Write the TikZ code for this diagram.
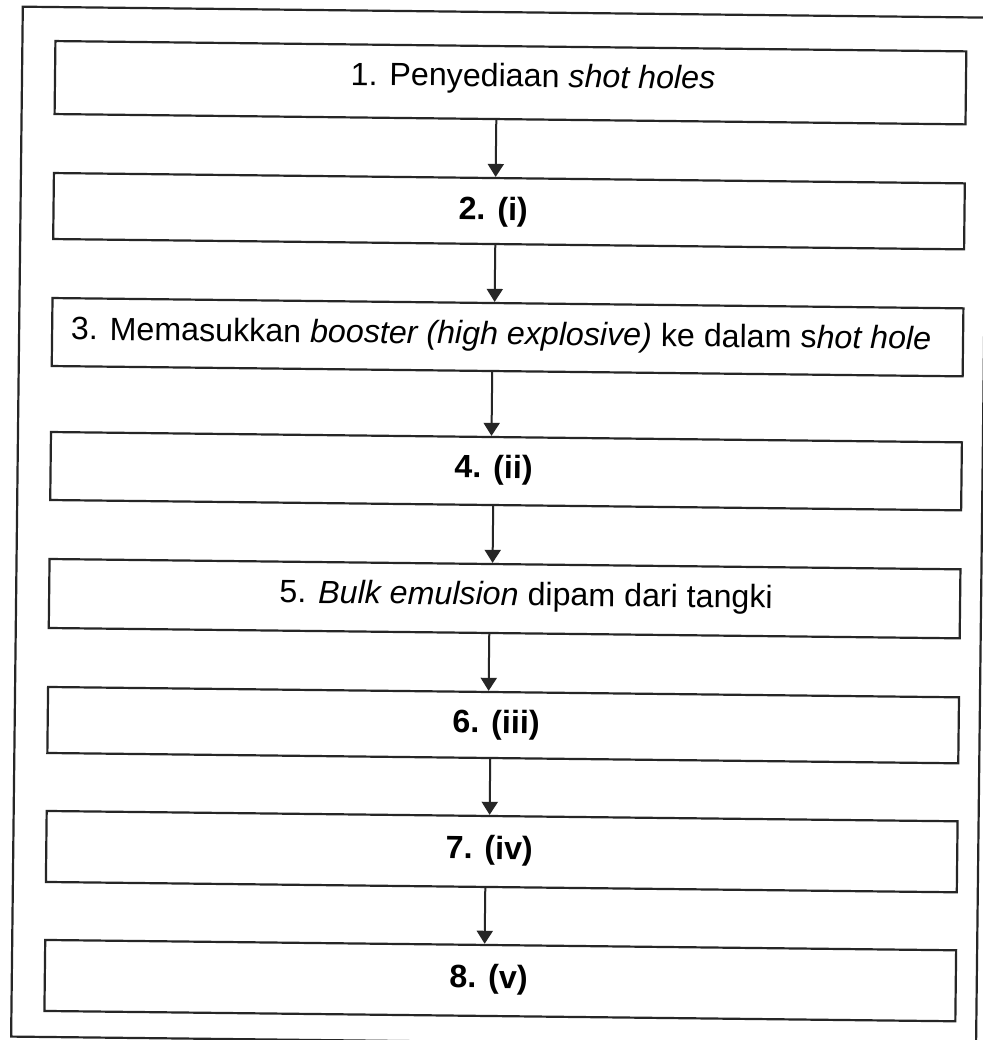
\documentclass[tikz,border=0pt]{standalone}
\usepackage{fontspec}
\setmainfont{Liberation Sans}
\usetikzlibrary{arrows.meta}
\begin{document}
\begin{tikzpicture}[x=0.5pt,y=-0.5pt,
  stepbox/.style={draw=black!85, line width=1.1pt, rectangle, minimum width=455.5pt, inner sep=0pt, transform shape},
  lbl/.style={anchor=base, inner sep=0pt, font=\fontsize{16.1}{19}\selectfont, transform shape},
  arr/.style={draw=black!85, line width=1pt, -{Triangle[width=8pt,length=6.5pt]}}]
\fill[white] (0,0) rectangle (982,1040);
\useasboundingbox (0,0) rectangle (982,1040);
\begin{scope}[rotate around={-0.65:(491,520)}]
\draw[line width=1.1pt, draw=black!85] (17,12) rectangle (982,1042);
\node[stepbox, minimum height=36.5pt] (b1) at (505.5,82.5) {};
\node[stepbox, minimum height=33pt]   (b2) at (505.5,211) {};
\node[stepbox, minimum height=34pt]   (b3) at (505.5,337) {};
\node[stepbox, minimum height=34pt]   (b4) at (505.5,471) {};
\node[stepbox, minimum height=34.5pt] (b5) at (505.5,598.5) {};
\node[stepbox, minimum height=33pt]   (b6) at (505.5,725) {};
\node[stepbox, minimum height=35.5pt] (b7) at (505.5,851.5) {};
\node[stepbox, minimum height=35.5pt] (b8) at (505.5,980.5) {};
\node[lbl] (t1) at (528,86.6) {1. Penyediaan \textit{shot holes}};
\node[lbl] (t2) at (489.7,220) {\textbf{2. (i)}};
\node[lbl] (t3) at (499,344.4) {3. Memasukkan \textit{booster (high explosive)} ke dalam s\textit{hot hole}};
\node[lbl] (t4) at (493,478) {\textbf{4. (ii)}};
\node[lbl] (t5) at (527,605) {5. \textit{Bulk emulsion} dipam dari tangki};
\node[lbl] (t6) at (498.4,733) {\textbf{6. (iii)}};
\node[lbl] (t7) at (493,859) {\textbf{7. (iv)}};
\node[lbl] (t8) at (493.8,988) {\textbf{8. (v)}};
\draw[arr] ([xshift=-6.85pt]b1.south) -- ([xshift=-6.85pt]b2.north);
\draw[arr] ([xshift=-6.65pt]b2.south) -- ([xshift=-6.65pt]b3.north);
\draw[arr] ([xshift=-7.45pt]b3.south) -- ([xshift=-7.45pt]b4.north);
\draw[arr] ([xshift=-6.2pt]b4.south) -- ([xshift=-6.2pt]b5.north);
\draw[arr] ([xshift=-7.45pt]b5.south) -- ([xshift=-7.45pt]b6.north);
\draw[arr] ([xshift=-6.25pt]b6.south) -- ([xshift=-6.25pt]b7.north);
\draw[arr] ([xshift=-8pt]b7.south) -- ([xshift=-8pt]b8.north);
\end{scope}
\end{tikzpicture}
\end{document}
